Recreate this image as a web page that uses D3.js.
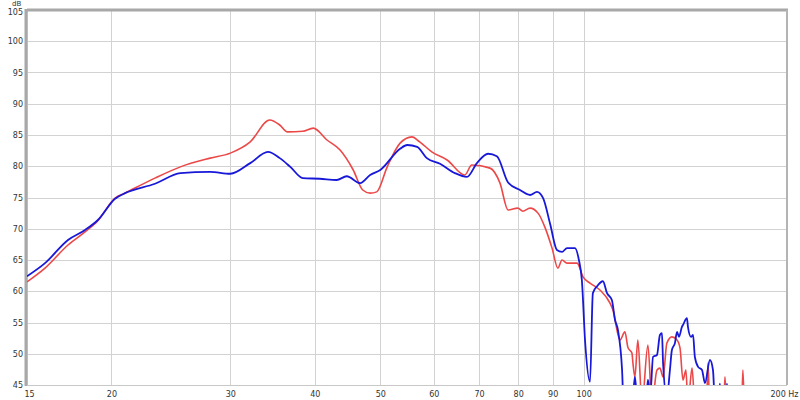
<!DOCTYPE html>
<html>
<head>
<meta charset="utf-8">
<script src="https://cdn.jsdelivr.net/npm/d3@7"></script>
<style>
  html, body { margin: 0; padding: 0; background: #fff; }
  svg { display: block; }
  text { font-family: "DejaVu Sans", Verdana, sans-serif; font-size: 8px; fill: #333; }
</style>
</head>
<body>
<svg id="chart" width="800" height="400"></svg>
<script>
// ---- data ----
const xTicks = [15, 20, 30, 40, 50, 60, 70, 80, 90, 100, 200];
const yTicks = [45, 50, 55, 60, 65, 70, 75, 80, 85, 90, 95, 100, 105];

const blueFreq = [15, 15.95, 17.25, 18.28, 19.1, 20.25, 20.95, 23.2, 25.3, 28.0, 30.0, 32.1, 34.1, 35.5, 36.8, 38.4, 40.7, 43.1, 44.6, 46.7, 48.3, 50.0, 53.5, 54.8, 56.7, 58.6, 61.3, 64.5, 67.2, 69.5, 72.2, 74.4, 77.3, 80.5, 83.3, 85.3, 87.1, 89.2, 91.3, 92.9, 94.5, 97.1, 98.4, 99.4, 100.5, 102.2, 103.2, 104.7, 106.8, 108.3, 110.1, 111.3, 112.4, 114.0, 114.6, 118.0, 119.1, 120.2, 123.6, 124.5, 125.5, 126.7, 128.4, 129.7, 130.6, 131.1, 132.8, 134.2, 135.1, 136.5, 137.5, 138.4, 139.8, 140.3, 142.2, 142.7, 144.2, 145.2, 146.1, 147.7, 149.7, 151.2, 153.8, 155.4, 156.5, 158.5, 159.1, 159.8, 162.3, 163.0, 163.7];
const blueDb   = [62.4, 64.5, 68.2, 69.8, 71.4, 74.8, 75.7, 77.2, 78.9, 79.1, 78.8, 80.5, 82.3, 81.3, 79.9, 78.1, 78.0, 77.8, 78.4, 77.3, 78.6, 79.4, 82.8, 83.4, 83.1, 81.3, 80.4, 78.9, 78.3, 80.5, 82.0, 81.6, 77.4, 76.2, 75.4, 75.9, 74.9, 70.8, 66.6, 66.3, 66.9, 66.9, 65.0, 61.8, 52.0, 45.5, 59.7, 60.8, 61.6, 59.7, 58.6, 55.4, 53.8, 47.4, 42, 42, 46.3, 42, 42, 45.8, 43.5, 49.5, 49.8, 53.0, 53.3, 48.5, 43, 47.4, 50.6, 51.7, 53.5, 52.7, 54.3, 54.6, 55.7, 54.3, 52.7, 53.0, 49.5, 47.9, 47.4, 45.3, 49.0, 47.4, 42, 42, 45.2, 42, 42, 45.2, 42];

const redFreq = [15, 15.95, 17.25, 18.28, 19.1, 20.25, 20.95, 23.2, 25.3, 28.0, 30.0, 32.1, 34.3, 35.5, 36.4, 38.4, 39.8, 41.7, 43.6, 45.6, 47.1, 48.3, 49.4, 51.2, 53.5, 55.7, 57.2, 59.6, 62.8, 66.7, 68.3, 72.7, 75.2, 77.3, 79.9, 81.3, 83.3, 85.6, 87.6, 88.3, 89.8, 91.6, 92.9, 94.5, 97.8, 99.8, 102.2, 105.7, 109.4, 110.5, 113.2, 115.1, 116.3, 117.9, 118.3, 119.1, 120.3, 122.0, 124.5, 126.2, 128.4, 129.7, 131.1, 132.8, 135.1, 137.5, 138.9, 140.3, 141.7, 142.7, 144.7, 146.1, 152.0, 152.8, 153.6, 161.2, 161.9, 162.6, 171.4, 172.1, 172.8];
const redDb   = [61.5, 63.7, 67.4, 69.5, 71.3, 74.9, 75.7, 78.1, 79.9, 81.3, 82.1, 83.9, 87.4, 86.6, 85.5, 85.6, 86.1, 84.2, 82.6, 79.4, 76.2, 75.7, 75.9, 79.9, 83.7, 84.7, 83.9, 82.3, 81.0, 78.6, 80.2, 79.7, 77.3, 73.0, 73.3, 72.8, 73.3, 72.5, 70.3, 69.3, 66.9, 63.7, 65.0, 64.5, 64.5, 62.3, 61.3, 60.2, 58.1, 57.0, 52.2, 53.5, 51.0, 50.1, 48.5, 46.3, 52.2, 42, 51.4, 42, 47.4, 47.7, 46.3, 51.7, 52.7, 52.2, 50.9, 45.8, 47.4, 42, 47.7, 42, 42, 48.5, 42, 42, 46.3, 42, 42, 47.4, 42];

// ---- layout ----
const svg = d3.select("#chart");
const mLeft = 27, mRight = 787, mTop = 10, mBottom = 385;
const x = d3.scaleLog().domain([15, 200]).range([mLeft, mRight]);
const y = d3.scaleLinear().domain([45, 105]).range([mBottom, mTop]);

svg.append("defs").append("clipPath").attr("id", "clip")
  .append("rect").attr("x", mLeft).attr("y", mTop).attr("width", mRight - mLeft).attr("height", mBottom - mTop);

// grid
const grid = svg.append("g");
grid.selectAll("line.h").data(yTicks).join("line")
  .attr("x1", mLeft).attr("x2", mRight)
  .attr("y1", d => Math.round(y(d)) + 0.5).attr("y2", d => Math.round(y(d)) + 0.5)
  .attr("stroke", "#d2d2d2").attr("stroke-width", 1);
grid.selectAll("line.v").data(xTicks).join("line")
  .attr("x1", d => Math.round(x(d)) + 0.5).attr("x2", d => Math.round(x(d)) + 0.5)
  .attr("y1", mTop).attr("y2", mBottom)
  .attr("stroke", "#d2d2d2").attr("stroke-width", 1);

// axes (labels only)
const yAxis = d3.axisLeft(y).tickValues(yTicks).tickSize(0).tickPadding(3).tickFormat(d3.format("d"));
const gy = svg.append("g").attr("transform", `translate(${mLeft - 1},0)`).call(yAxis);
gy.select(".domain").remove();
gy.selectAll("text").style("font-size", "8px").style("fill", "#333").style("font-family", "DejaVu Sans, sans-serif");
gy.selectAll(".tick").filter(d => d === 105).select("text").attr("dy", "0.5em");

const xAxis = d3.axisBottom(x).tickValues(xTicks).tickSize(0).tickPadding(6)
  .tickFormat(d => d === 200 ? "200 Hz" : String(d));
const gx = svg.append("g").attr("transform", `translate(0,${mBottom})`).call(xAxis);
gx.select(".domain").remove();
gx.selectAll("text").style("font-size", "8px").style("fill", "#333").style("font-family", "DejaVu Sans, sans-serif");
gx.selectAll(".tick").filter(d => d === 200).select("text").attr("text-anchor", "end").attr("dx", "11");
gx.selectAll(".tick").filter(d => d === 15).select("text").attr("dx", "2");

svg.append("text").attr("x", 12).attr("y", 6).text("dB").style("font-size", "7px");

// frame
svg.append("line").attr("x1", mLeft).attr("x2", mRight + 1).attr("y1", mTop).attr("y2", mTop)
  .attr("stroke", "#a8a8a8").attr("stroke-width", 3);
svg.append("line").attr("x1", mLeft - 1).attr("x2", mLeft - 1).attr("y1", mTop - 1).attr("y2", mBottom + 1)
  .attr("stroke", "#a8a8a8").attr("stroke-width", 3);
svg.append("line").attr("x1", mRight).attr("x2", mRight).attr("y1", mTop).attr("y2", mBottom)
  .attr("stroke", "#b4b4b4").attr("stroke-width", 2);
svg.append("line").attr("x1", mLeft).attr("x2", mRight).attr("y1", mBottom + 0.5).attr("y2", mBottom + 0.5)
  .attr("stroke", "#c8c8c8").attr("stroke-width", 1);

// curves
const line = d3.line().x(d => x(d[0])).y(d => y(d[1])).curve(d3.curveMonotoneX);
const plot = svg.append("g").attr("clip-path", "url(#clip)");
const redData = redFreq.map((f, i) => [f, redDb[i]]);
const blueData = blueFreq.map((f, i) => [f, blueDb[i]]);
plot.append("path").datum(redData).attr("d", line)
  .attr("fill", "none").attr("stroke", "#ec4848").attr("stroke-width", 1.6).attr("stroke-linejoin", "round");
plot.append("path").datum(blueData).attr("d", line)
  .attr("fill", "none").attr("stroke", "#1818d8").attr("stroke-width", 1.8).attr("stroke-linejoin", "round");
</script>
</body>
</html>
